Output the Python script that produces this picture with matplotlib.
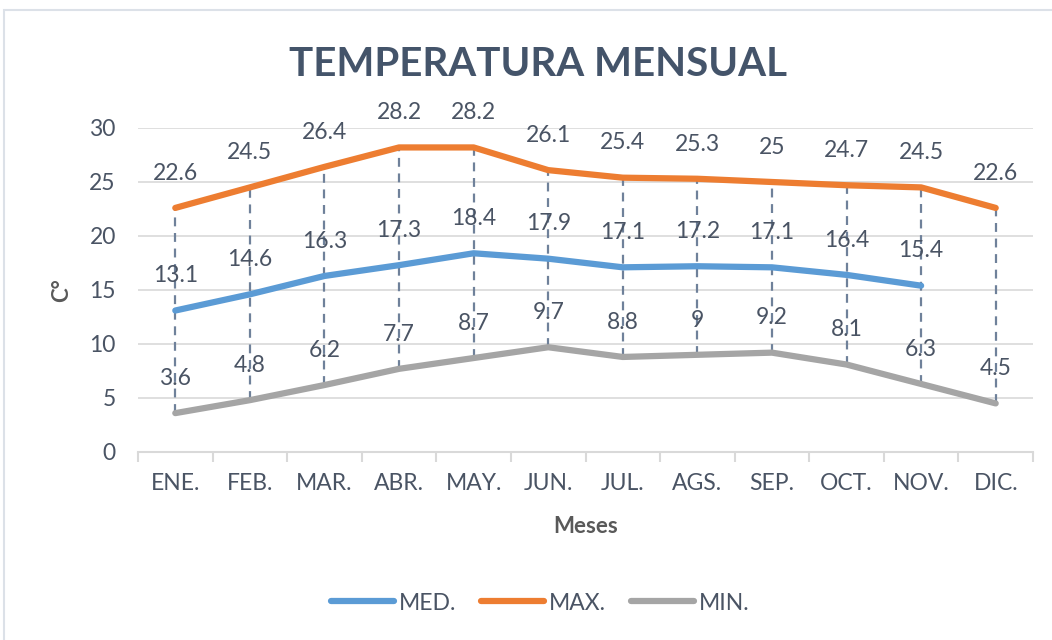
import numpy as np
import matplotlib.pyplot as plt
from matplotlib.patches import Rectangle

meses = ['ENE.', 'FEB.', 'MAR.', 'ABR.', 'MAY.', 'JUN.', 'JUL.', 'AGS.', 'SEP.', 'OCT.', 'NOV.', 'DIC.']
med = [13.1, 14.6, 16.3, 17.3, 18.4, 17.9, 17.1, 17.2, 17.1, 16.4, 15.4]
maxi = [22.6, 24.5, 26.4, 28.2, 28.2, 26.1, 25.4, 25.3, 25, 24.7, 24.5, 22.6]
mini = [3.6, 4.8, 6.2, 7.7, 8.7, 9.7, 8.8, 9, 9.2, 8.1, 6.3, 4.5]

plt.rcParams['font.family'] = ['Lato', 'DejaVu Sans']
txt = '#44546A'
lbl = '#4A5464'

fig = plt.figure(figsize=(10.52, 6.4), dpi=100)
fig.patches.append(Rectangle((4 / 1052, -0.05), 1.1, 1 - 10 / 640 + 0.05, transform=fig.transFigure,
                             fill=False, ec='#DCE1E8', lw=1.5))
ax = fig.add_axes([138 / 1052, 1 - 452 / 640, 895 / 1052, 324 / 640])

x = np.arange(len(meses))

# lineas de caida discontinuas (max -> min)
ax.vlines(x, mini, maxi, colors='#6F819A', linestyles=(0, (4, 3)), lw=1.6, zorder=3)

ax.plot(x[:len(med)], med, color='#5B9BD5', lw=4.5, solid_capstyle='round', label='MED.', zorder=4)
ax.plot(x, maxi, color='#ED7D31', lw=4.5, solid_capstyle='round', label='MAX.', zorder=4)
ax.plot(x, mini, color='#A5A5A5', lw=4.5, solid_capstyle='round', label='MIN.', zorder=4)

for serie in (med, maxi, mini):
    for i, v in enumerate(serie):
        ax.annotate('%g' % v, (i, v), xytext=(0, 25), textcoords='offset points',
                    ha='center', va='center', fontsize=16.5, color=lbl, clip_on=False, zorder=5)

ax.set_ylim(0, 30)
ax.set_xlim(-0.5, 11.5)
ax.set_yticks(range(0, 31, 5))
ax.yaxis.grid(True, color='#D9D9D9', lw=1.2)
ax.set_axisbelow(True)
for s in ['top', 'right', 'left']:
    ax.spines[s].set_visible(False)
ax.spines['bottom'].set_color('#D9D9D9')
ax.spines['bottom'].set_linewidth(1.5)

ax.set_xticks(x)
ax.set_xticklabels(meses)
ax.set_xticks(np.arange(-0.5, 12, 1), minor=True)
ax.tick_params(axis='x', which='major', length=0, pad=15, labelsize=16.5, labelcolor=lbl)
ax.tick_params(axis='x', which='minor', length=7, width=1.5, color='#D9D9D9')
ax.tick_params(axis='y', length=0, pad=16, labelsize=16.5, labelcolor=lbl)

ax.set_xlabel('Meses', fontsize=16, fontweight='bold', color='#595959', labelpad=16)
ax.set_ylabel('C°', fontsize=16, fontweight='bold', color='#595959', labelpad=12)

fig.text(538 / 1052, 1 - 64 / 640, 'TEMPERATURA MENSUAL', ha='center', va='center',
         fontsize=29, fontweight='bold', color=txt)

fig.legend(loc='center', bbox_to_anchor=(540 / 1052, 1 - 603 / 640), ncol=3, frameon=False,
           fontsize=16.5, handlelength=2.75, handletextpad=0.2, columnspacing=1.1,
           labelcolor=lbl)

plt.savefig('out.png', dpi=100)
